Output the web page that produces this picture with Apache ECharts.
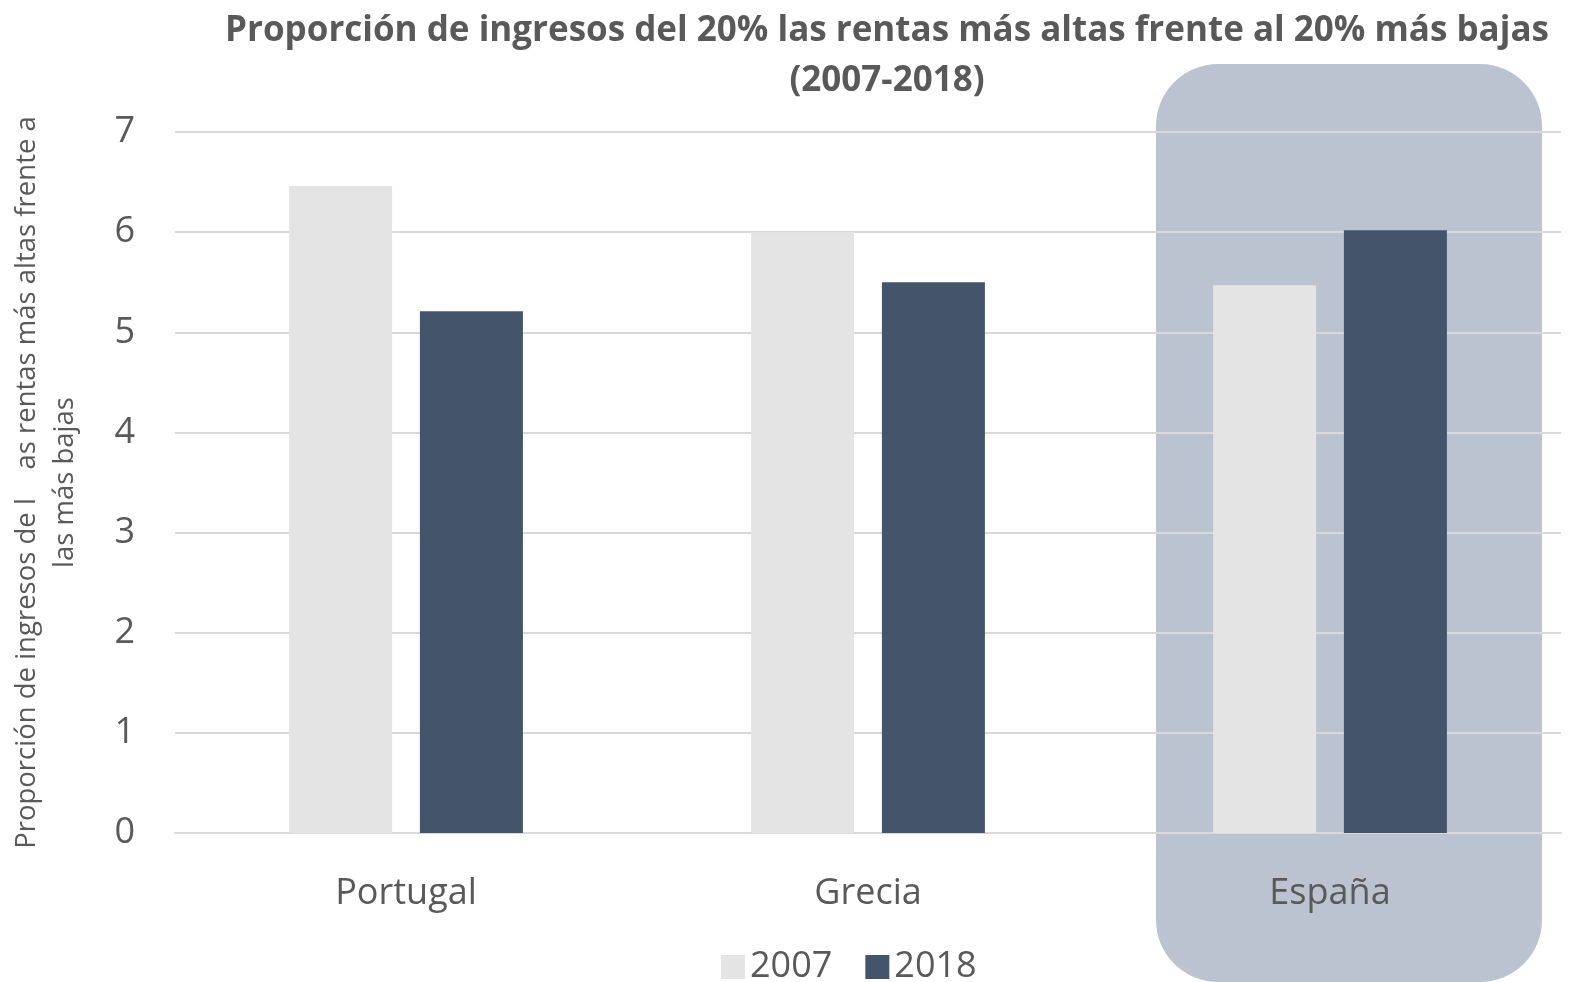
<!DOCTYPE html>
<html lang="es">
<head>
    <meta charset="UTF-8">
    <title>Proporción de ingresos 20/20</title>
    <script src="https://cdn.jsdelivr.net/npm/echarts@6/dist/echarts.min.js"></script>
    <style>
        html, body { margin: 0; padding: 0; background: #fff; }
        #chart { width: 1573px; height: 982px; }
    </style>
</head>
<body>
    <div id="chart"></div>
    <script>
        // datos
        const paises = ['Portugal', 'Grecia', 'España'];
        const valores2007 = [6.46, 6.0, 5.47];
        const valores2018 = [5.21, 5.5, 6.02];
        const ticksY = [0, 1, 2, 3, 4, 5, 6, 7];

        const gris = '#595959';
        const fuente = '"Open Sans", sans-serif';

        const chart = echarts.init(document.getElementById('chart'));
        chart.setOption({
            animation: false,
            textStyle: { fontFamily: fuente, color: gris },
            title: {
                text: 'Proporción de ingresos del 20% las rentas más altas frente al 20% más bajas\n(2007-2018)',
                left: 882, top: 1, textAlign: 'center',
                textStyle: { fontFamily: fuente, fontSize: 35, fontWeight: 'bold', color: gris, lineHeight: 50 }
            },
            legend: {
                data: ['2007', '2018'],
                left: 716, top: 944,
                itemWidth: 24, itemHeight: 24, itemGap: 33,
                icon: 'rect',
                textStyle: { fontFamily: fuente, fontSize: 36, color: gris }
            },
            grid: { left: 175, right: 12, top: 132, bottom: 149, outerBoundsMode: 'none' },
            xAxis: {
                type: 'category',
                data: paises,
                axisTick: { show: false },
                axisLine: { lineStyle: { color: '#D9D9D9', width: 2 } },
                axisLabel: { fontSize: 36, color: gris, margin: 43 }
            },
            yAxis: {
                type: 'value',
                min: ticksY[0], max: ticksY[ticksY.length - 1], interval: 1,
                name: 'Proporción de ingresos de l    as rentas más altas frente a\nlas más bajas',
                nameLocation: 'middle', nameRotate: 90, nameGap: 91,
                nameTextStyle: { fontSize: 27.5, color: gris, lineHeight: 38 },
                axisLine: { show: false },
                axisTick: { show: false },
                axisLabel: { fontSize: 36, color: gris, margin: 40 },
                splitLine: { lineStyle: { color: '#D9D9D9', width: 2 } }
            },
            series: [
                { name: '2007', type: 'bar', data: valores2007, barWidth: 103, barGap: '27%', itemStyle: { color: '#E4E4E4' }, z: 3 },
                { name: '2018', type: 'bar', data: valores2018, barWidth: 103, itemStyle: { color: '#44546A' }, z: 3 }
            ]
        });

        // recuadro redondeado detrás de España
        const cx = chart.convertToPixel({ xAxisIndex: 0 }, 'España');
        chart.setOption({
            graphic: [{
                type: 'rect', z: -10, silent: true,
                shape: { x: cx - 174, y: 64, width: 386, height: 918, r: 62 },
                style: { fill: '#BCC3D0' }
            }]
        });
    </script>
</body>
</html>
